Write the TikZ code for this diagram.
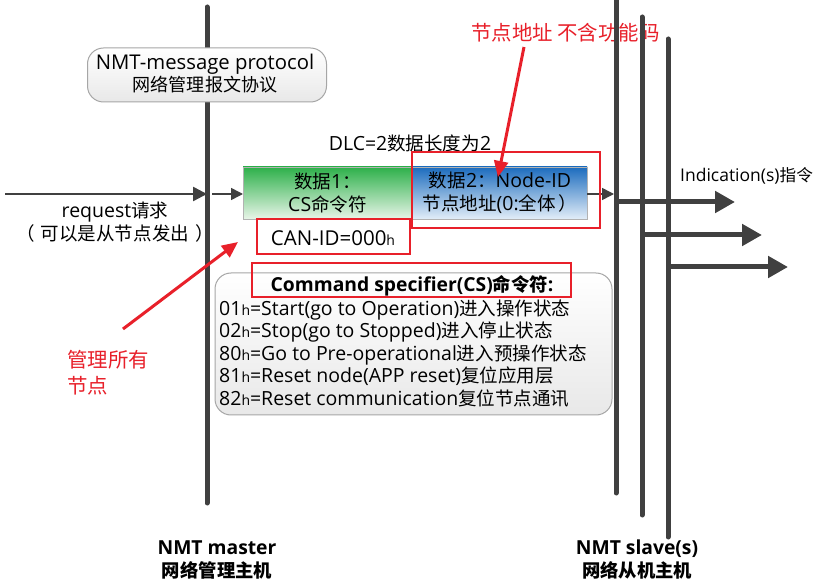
\documentclass[tikz,border=0pt]{standalone}
\usepackage{fontspec}
\setmainfont{Open Sans}
\newfontfamily\cjk[Scale=0.95]{Noto Sans CJK SC}
\usetikzlibrary{arrows.meta,calc}
\definecolor{dk}{HTML}{404040}
\definecolor{rd}{HTML}{E8202A}
\definecolor{gtop}{HTML}{2DB04A}
\definecolor{gbot}{HTML}{E8F5E8}
\definecolor{btop}{HTML}{1C6CBE}
\definecolor{bbot}{HTML}{E2EDF8}
\newcommand{\hs}{{\fontsize{14}{14}\selectfont h}}
\newcommand{\zh}[1]{{\cjk #1}}
\tikzset{
  vline/.style={draw=dk,line width=5pt,line cap=round},
  bigarr/.style={draw=dk,line width=5pt,-{Triangle[length=20pt,width=21pt]}},
  midarr/.style={draw=dk,line width=2.5pt,-{Triangle[length=14pt,width=14pt]}},
  smallarr/.style={draw=dk,line width=1.6pt,-{Triangle[length=12pt,width=12pt]}},
  redarr/.style={draw=rd,line width=3pt,-{Triangle[length=16pt,width=14pt]}},
  redbox/.style={draw=rd,line width=1.8pt},
  rbox/.style={draw=gray!70,line width=1pt,rounded corners=16pt,top color=white,bottom color=gray!18},
  txt/.style={font=\fontsize{19.5}{22.5}\selectfont,inner sep=0pt,align=center},
  rtxt/.style={font=\fontsize{21.5}{26}\selectfont\cjk,text=rd,inner sep=0pt},
  btxt/.style={font=\fontsize{19.3}{23}\selectfont\bfseries,inner sep=0pt,align=center}
}
\begin{document}
\begin{tikzpicture}[x=1pt,y=-1pt]
\useasboundingbox[fill=white] (0,0) rectangle (836,585);
% red top note (under the lines)
\node[rtxt,anchor=west] (rt1) at (471,33) {节点地址 不含功能码};
% vertical lines
\coordinate (m1) at (207,7);  \coordinate (m2) at (207,503);
\coordinate (s1a) at (616,0); \coordinate (s1b) at (616,493);
\coordinate (s2a) at (642,17); \coordinate (s2b) at (642,515);
\coordinate (s3a) at (668,39); \coordinate (s3b) at (668,537);
\draw[vline] (m1) -- (m2);
\draw[vline] (s1a) -- (s1b);
\draw[vline] (s2a) -- (s2b);
\draw[vline] (s3a) -- (s3b);
% protocol box
\node[rbox,minimum width=239pt,minimum height=54pt] (proto) at (207,75) {};
\node[txt,font=\fontsize{20.3}{22}\selectfont] (protot) at (205,73.5) {NMT-message protocol\\{\fontsize{19}{19}\selectfont\zh{网络管理报文协议}}};
% DLC
\node[txt] (dlc) at (410,143) {DLC=2\zh{数据长度为}2};
% data boxes
\path[draw=gray!60,line width=0.8pt,top color=gtop,bottom color=gbot] (243,167) rectangle (412,219);
\node[txt] (d1) at (327.5,193) {\zh{数据}1\zh{：}\\CS\zh{命令符}};
\path[draw=gray!60,line width=0.8pt,top color=btop,bottom color=bbot] (412,167) rectangle (587,219);
\node[txt] (d2) at (500,193) {\zh{数据}2\zh{：}Node-ID\\\zh{节点地址}(0:\zh{全体}\hspace{3pt}\zh{）}};
\coordinate (d1w) at (243,194);
\coordinate (d2e) at (587,194);
% request arrow
\coordinate (req0) at (5,194);
\draw[midarr] (req0) -- (d1w -| m1);
\draw[smallarr] ($(d1w -| m1)+(5,0)$) -- (d1w);
\draw[smallarr] (d2e) -- ($(d2e -| s1a)+(-2,0)$);
\node[txt] (req) at (115,222) {request\zh{请求}\\\zh{（}\hspace{6pt}\zh{可以是从节点发出}\hspace{6pt}\zh{）}};
% CAN-ID
\node[txt,font=\fontsize{20.5}{22.5}\selectfont] (can) at (333,238) {CAN-ID=000\hs};
% slave arrows
\coordinate (a1) at (735,202); \coordinate (a2) at (762,235); \coordinate (a3) at (788,267);
\draw[bigarr] (a1 -| s1a) -- (a1);
\draw[bigarr] (a2 -| s2a) -- (a2);
\draw[bigarr] (a3 -| s3a) -- (a3);
\node[txt,font=\fontsize{17.5}{22.5}\selectfont,anchor=west] (ind) at (680,176) {Indication(s)\zh{指令}};
% command box
\node[rbox,minimum width=397pt,minimum height=142pt] (cmd) at (413.5,344) {};
\node[btxt] (cmdt) at (412,286) {Command specifier(CS)\zh{命令符}:};
\node[txt,anchor=north west,align=left] (cmdl) at (219,299.5) {01\hs=Start(go to Operation)\zh{进入操作状态}\\02\hs=Stop(go to Stopped)\zh{进入停止状态}\\80\hs=Go to Pre-operational\zh{进入预操作状态}\\81\hs=Reset node(APP reset)\zh{复位应用层}\\82\hs=Reset communication\zh{复位节点通讯}};
% red annotations
\draw[redbox] (412,152) rectangle (600,228);
\draw[redbox] (257,219) rectangle (410,254);
\draw[redbox] (252,263) rectangle (571,297);
\coordinate (ra1s) at (524,47); \coordinate (ra1e) at (498,177);
\draw[redarr] (ra1s) -- (ra1e);
\coordinate (ra2s) at (123,329); \coordinate (ra2e) at (238,242);
\draw[redarr] (ra2s) -- (ra2e);
\node[rtxt,anchor=north west,align=left] (rt2) at (67,350) {管理所有\\节点};
% bottom labels
\node[btxt] (master) at (217,560) {NMT master\\\zh{网络管理主机}};
\node[btxt] (slave) at (637,560) {NMT slave(s)\\\zh{网络从机主机}};
\end{tikzpicture}
\end{document}
